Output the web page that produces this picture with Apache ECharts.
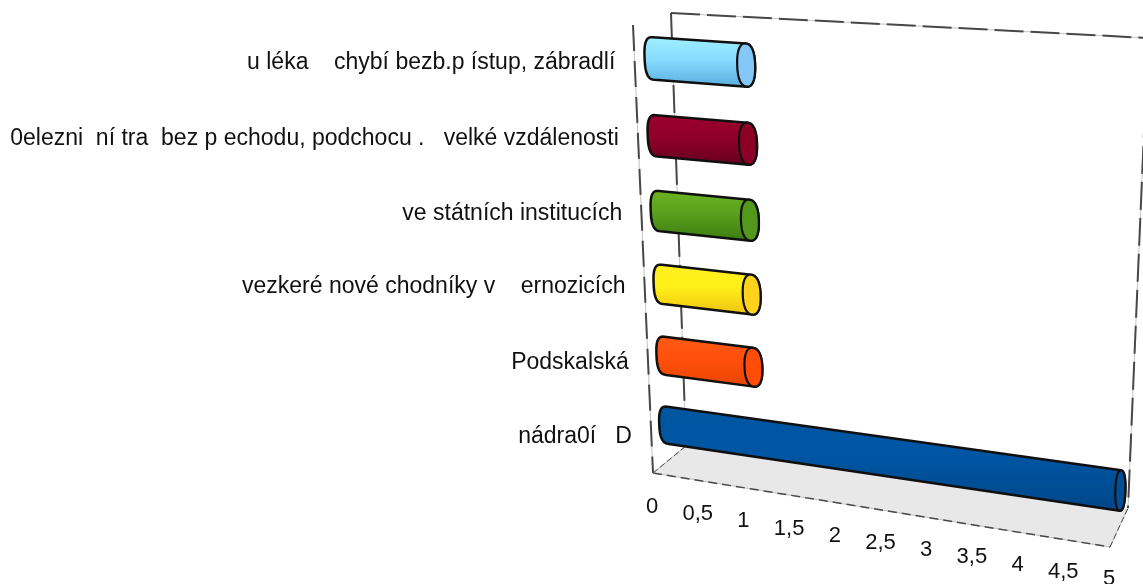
<!DOCTYPE html>
<html><head><meta charset="utf-8">
<style>html,body{margin:0;padding:0;background:#fff}#c{width:1143px;height:584px}</style>
<script src="https://cdn.jsdelivr.net/npm/echarts@6/dist/echarts.min.js"></script>
</head><body><div id="c"></div>
<script>
const categories = [
  'u léka    chybí bezb.p ístup, zábradlí',
  '0elezni  ní tra  bez p echodu, podchocu .   velké vzdálenosti',
  've státních institucích',
  'vezkeré nové chodníky v    ernozicích',
  'Podskalská',
  'nádra0í   D'
];
const values = [1, 1, 1, 1, 1, 5];
const valueTicks = [0, 0.5, 1, 1.5, 2, 2.5, 3, 3.5, 4, 4.5, 5];

const barColors = [
  {top:'#a0f0ff', mid:'#88dcff', bot:'#55acdc', cap:'#84c8fa'},
  {top:'#9c0030', mid:'#900028', bot:'#660020', cap:'#8c0026'},
  {top:'#6cb424', mid:'#5aa01c', bot:'#3c7a12', cap:'#52981a'},
  {top:'#ffee20', mid:'#fff018', bot:'#eec010', cap:'#ffd21e'},
  {top:'#ff5a14', mid:'#ff500c', bot:'#e84400', cap:'#ff4c08'},
  {top:'#00569f', mid:'#0056a4', bot:'#004688', cap:'#004e98'}
];
const labelNudgeY = [-2,-5,-7,-8,-5,-2];

const box = {
  back:  {bl:[686,446], br:[1128,508], tl:[671,13],  tr:[1148,38]},
  front: {bl:[653,473], br:[1110,547], tl:[633,25],  tr:[1125,62]}
};
function lerp(a,b,t){return a+(b-a)*t;}
function lerp2(a,b,t){return [lerp(a[0],b[0],t),lerp(a[1],b[1],t)];}
function warpUFD(u,f,d){
  const g = f/(1+0.083*(1-f));
  const b = lerp2(lerp2(box.back.bl,box.back.br,u),lerp2(box.back.tl,box.back.tr,u),g);
  const a = lerp2(lerp2(box.front.bl,box.front.br,u),lerp2(box.front.tl,box.front.tr,u),g);
  return lerp2(b,a,d);
}
function warpPx(p,r,d){
  const u=(p[0]-r.x)/r.width;
  return warpUFD(u/(1+0.05*(1-u)), 1-(p[1]-r.y)/r.height, d);
}
function ringPts(c,A,B,t0,t1,n,pw){
  const o=[], e=pw||1, sp=x=>Math.sign(x)*Math.pow(Math.abs(x),e);
  for(let i=0;i<=n;i++){
    const t=(t0+(t1-t0)*i/n)*Math.PI/180, ca=sp(Math.cos(t)), sa=sp(Math.sin(t));
    o.push([c[0]+A[0]*ca+B[0]*sa, c[1]+A[1]*ca+B[1]*sa]);
  }
  return o;
}
function unit(a,b){const dx=b[0]-a[0],dy=b[1]-a[1],l=Math.hypot(dx,dy);return [dx/l,dy/l];}

function renderFrame(params, api){
  if(params.dataIndex!==0) return null;
  const W=warpUFD;
  const fine=(a,b,dash,w)=>[
    {type:'line',shape:{x1:a[0],y1:a[1],x2:b[0],y2:b[1]},style:{stroke:'#c4c4c4',lineWidth:1},silent:true},
    {type:'line',shape:{x1:a[0],y1:a[1],x2:b[0],y2:b[1]},style:{stroke:'#484848',lineWidth:w||2,lineDash:dash},silent:true}
  ];
  const floor=[W(0,0,1),W(0,0,0),W(1,0,0),W(1,0,1)];
  const kids=[{type:'polygon',shape:{points:floor},style:{fill:'#e8e8e8'},silent:true}];
  kids.push(...fine(W(0,1,0),W(1,1,0),[29,7]));
  kids.push(...fine(W(0,1,0),W(0,0,0),[28,8]));
  kids.push(...fine(W(1,1,0),W(1,0,0),[28,8]));
  kids.push(...fine(W(0,1,1),W(0,0,1),[26,10]));
  kids.push(...fine(W(0,0,1),W(1,0,1),[9,5],1.5));
  kids.push(...fine(W(0,0,1),W(0,0,0),[6,3],1));
  kids.push(...fine(W(1,0,1),W(1,0,0),[6,3],1));
  return {type:'group',children:kids};
}

function renderBar(params, api){
  const r=params.coordSys, i=api.value(1), val=api.value(0);
  const up=(p,dv)=>[p[0],p[1]-dv];
  const s=api.coord([0,i]), e=api.coord([val,i]);
  const hh=api.size([0,1])[1]*0.27;
  const c0=warpPx(s,r,0.5), c1=warpPx(e,r,0.5);
  const B0=warpPx(up(s,hh),r,0.5), B1=warpPx(up(e,hh),r,0.5);
  const b0=[B0[0]-c0[0],B0[1]-c0[1]], b1=[B1[0]-c1[0],B1[1]-c1[1]];
  const ax=unit(c0,c1);
  const rx1=Math.max(5,10-val), rx0=9;
  const A0=[ax[0]*rx0,ax[1]*rx0], A1=[ax[0]*rx1,ax[1]*rx1];
  const col=barColors[i];
  const pts=[...ringPts(c0,A0,b0,90,270,28,0.72),...ringPts(c1,A1,b1,-90,90,28,0.85)];
  return {type:'group',children:[
    {type:'polygon',shape:{points:pts},style:{
      fill:{type:'linear',x:0,y:0,x2:0,y2:1,colorStops:[{offset:0,color:col.top},{offset:0.45,color:col.mid},{offset:1,color:col.bot}]},
      stroke:'#101010',lineWidth:2.5,lineJoin:'round'}},
    {type:'polygon',shape:{points:ringPts(c1,A1,b1,0,360,48,0.85)},style:{fill:col.cap,stroke:'#101010',lineWidth:2.2}}
  ]};
}

function renderCatLabel(params, api){
  const r=params.coordSys, i=api.value(1);
  const p=warpPx(api.coord([0,i]),r,1);
  return {type:'text',x:p[0]-19.5,y:p[1]+labelNudgeY[i],silent:true,style:{
    text:categories[i],align:'right',verticalAlign:'middle',fill:'#111',font:'23px "Liberation Sans"'}};
}
function renderTick(params, api){
  const v=api.value(0);
  const q=warpUFD(v/5,0,1);
  return {type:'text',x:q[0]-1,y:q[1]+34-0.4*v,silent:true,style:{
    text:String(v).replace('.',','),align:'center',verticalAlign:'middle',fill:'#111',font:'22px "Liberation Sans"'}};
}

const chart=echarts.init(document.getElementById('c'),null,{renderer:'canvas'});
const barData=values.map((v,i)=>[v,i]);
chart.setOption({
  animation:false,
  backgroundColor:'#fff',
  grid:{left:0,right:0,top:0,bottom:0},
  xAxis:{type:'value',min:0,max:5,interval:0.5,show:false},
  yAxis:{type:'category',data:categories,inverse:true,show:false},
  series:[
    {type:'custom',renderItem:renderFrame,data:[[0,0]],clip:false,silent:true,encode:{x:0,y:1},z:1},
    {type:'custom',renderItem:renderBar,data:barData,clip:false,encode:{x:0,y:1},z:3},
    {type:'custom',renderItem:renderCatLabel,data:barData,clip:false,silent:true,encode:{x:0,y:1},z:4},
    {type:'custom',renderItem:renderTick,data:valueTicks.map(v=>[v,0]),clip:false,silent:true,encode:{x:0,y:1},z:4}
  ]
});
</script></body></html>
